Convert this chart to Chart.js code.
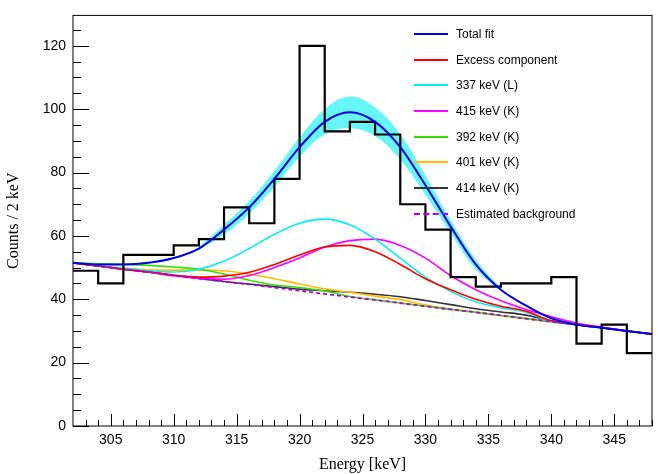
<!DOCTYPE html>
<html>
<head>
<meta charset="utf-8">
<script src="https://cdn.jsdelivr.net/npm/chart.js@4"></script>
<style>
  body { margin: 0; background: #fff; }
  #wrap { position: relative; width: 659px; height: 474px; }
  #legend { position: absolute; left: 414px; top: 21px; font: 12px "Liberation Sans", Arial, sans-serif; }
  .row { height: 25.7px; display: flex; align-items: center; }
  .sw { width: 34px; height: 0; border-top: 2px solid; margin-right: 8px; }
</style>
</head>
<body>
<div id="wrap">
  <canvas id="c" width="659" height="474"></canvas>
  <div id="legend"></div>
</div>
<script>
// histogram: left bin edges + counts (2 keV bins)
const binEdges = [302,304,306,308,310,312,314,316,318,320,322,324,326,328,330,332,334,336,338,340,342,344,346];
const counts   = [49, 45, 54, 54, 57, 59, 69, 64, 78, 120, 93, 96, 92, 70, 62, 47, 44, 45, 45, 47, 26, 32, 23];

// curve sample points (keV)
const energy = [302,304,306,308,310,312,314,316,318,320,322,324,326,328,330,332,334,336,338,340,342,344,346,348];
const background = [51.5,50.5,49.5,48.6,47.6,46.6,45.6,44.7,43.7,42.7,41.7,40.7,39.8,38.8,37.8,36.8,35.9,34.9,33.9,32.9,32.0,31.0,30.0,29.0];
const totalFit   = [51.5,51,51,51.5,53,56,62,69,78,88,96,99,96,88,76,63,51,43,38,34,32,31,30,29];
const line337    = [51.5,50.6,49.8,49,48.6,49.5,52,56,60.5,64,65.3,63.5,59,53,47,42.5,39.2,37.3,35.9,32.9,32.0,31.0,30.0,29.0];
const excess     = [51.5,50.5,49.5,48.6,47.6,47,47.3,48.5,51,54,56.5,57,55,51,46.5,43,40,37.8,36.2,33.2,32.0,31.0,30.0,29.0];
const line415    = [51.5,50.5,49.5,48.6,47.4,46.6,46.3,47.5,50,53,56.5,58.5,59,57,53,47.5,43,39.5,36.8,34.5,32.5,31.2,30.0,29.0];
const line392    = [51.5,51.2,51,50.7,50.2,49.5,48,46,44.5,43.7,42.6,40.9,39.8,38.8,37.8,36.8,35.9,34.9,33.9,32.9,32.0,31.0,30.0,29.0];
const line401    = [51.5,50.5,49.8,49.3,49.2,49.2,49,48,46.5,44.8,43.3,42.2,41,39.9,38.2,36.9,35.9,34.9,33.9,32.9,32.0,31.0,30.0,29.0];
const line414    = [51.5,50.5,49.5,48.6,47.6,46.6,45.6,44.8,44,43.2,42.7,42.2,41.6,40.8,39.6,38.3,37,36,35,33.2,32.0,31.0,30.0,29.0];
const bandE     = [312,314,316,318,320,322,324,326,328,330,332,334,336];
const bandUpper = [56.5,63.5,71,80.5,91,100,104,100.5,92,79,65,52.5,43.5];
const bandLower = [55.5,60.5,67,75.5,85,92,94,91.5,84,73,61,49.5,42.5];

const xTicks = [305,310,315,320,325,330,335,340,345];
const yTicks = [0,20,40,60,80,100,120];

const pts = (xs, ys) => xs.map((x, i) => ({ x, y: ys[i] }));
const histPts = pts(binEdges, counts).concat([{ x: 348, y: counts[counts.length - 1] }]);

function curve(label, data, color, order, extra) {
  return Object.assign({ label, data: pts(energy, data), borderColor: color, borderWidth: 1.6, order,
    pointRadius: 0, tension: 0.4, cubicInterpolationMode: 'monotone', fill: false }, extra || {});
}

const datasets = [
  { label: 'bandUp', data: pts(bandE, bandUpper), borderWidth: 0, pointRadius: 0, tension: 0.4,
    backgroundColor: '#66f6f8', fill: '+1', order: 20 },
  { label: 'bandLo', data: pts(bandE, bandLower), borderWidth: 0, pointRadius: 0, tension: 0.4, fill: false, order: 19 },
  curve('Estimated background', background, '#b000e8', 2, { borderDash: [4, 3], borderWidth: 1.8, tension: 0 }),
  curve('414 keV (K)', line414, '#333333', 9),
  curve('401 keV (K)', line401, '#ffbf00', 8),
  curve('392 keV (K)', line392, '#33e000', 7),
  curve('415 keV (K)', line415, '#ff00ff', 6),
  curve('337 keV (L)', line337, '#00f0f0', 5),
  curve('Excess component', excess, '#ff0000', 4),
  { label: 'hist', data: histPts, stepped: 'before', borderColor: '#000', borderWidth: 2.2, pointRadius: 0, fill: false, order: 1 },
  curve('Total fit', totalFit, '#0000e0', 0, { borderWidth: 2 })
];

const legendItems = [
  ['Total fit', '#0000e0', 'solid'], ['Excess component', '#ff0000', 'solid'],
  ['337 keV (L)', '#00f0f0', 'solid'], ['415 keV (K)', '#ff00ff', 'solid'],
  ['392 keV (K)', '#33e000', 'solid'], ['401 keV (K)', '#ffbf00', 'solid'],
  ['414 keV (K)', '#333333', 'solid'], ['Estimated background', '#b000e8', 'dashed']
];
document.getElementById('legend').innerHTML = legendItems.map(([t, c, s]) =>
  `<div class="row"><div class="sw" style="border-top-color:${c};border-top-style:${s}"></div>${t}</div>`).join('');

// ROOT-like frame with inward ticks
const frameTicks = {
  id: 'frameTicks',
  afterDraw(chart) {
    const { ctx, chartArea: a, scales: { x, y } } = chart;
    ctx.save();
    ctx.strokeStyle = '#000';
    ctx.lineWidth = 1;
    ctx.strokeRect(a.left, a.top, a.right - a.left, a.bottom - a.top);
    ctx.beginPath();
    for (let v = 303; v <= 348; v++) {
      const px = Math.round(x.getPixelForValue(v)) + 0.5;
      const len = v % 5 === 0 ? 12 : 6;
      ctx.moveTo(px, a.bottom); ctx.lineTo(px, a.bottom - len);
    }
    for (let v = 0; v <= 125; v += 5) {
      const py = Math.round(y.getPixelForValue(v)) + 0.5;
      const len = v % 20 === 0 ? 16 : 8;
      ctx.moveTo(a.left, py); ctx.lineTo(a.left + len, py);
    }
    ctx.stroke();
    ctx.restore();
  }
};

new Chart(document.getElementById('c'), {
  type: 'line',
  data: { datasets },
  options: {
    responsive: false,
    animation: false,
    layout: { padding: { top: 5, right: 7, left: 0, bottom: 0 } },
    plugins: { legend: { display: false }, tooltip: { enabled: false } },
    scales: {
      x: {
        type: 'linear', min: 302, max: 348,
        afterBuildTicks: s => { s.ticks = xTicks.map(v => ({ value: v })); },
        afterFit: s => { s.height = 48; },
        grid: { display: false, drawTicks: false },
        border: { display: false },
        ticks: { padding: 6, color: '#000', font: { family: 'Liberation Sans', size: 14 } },
        title: { display: true, text: 'Energy [keV]', color: '#000', padding: 0,
          font: { family: 'Liberation Serif', size: 16 } }
      },
      y: {
        min: 0, max: 129.6,
        afterBuildTicks: s => { s.ticks = yTicks.map(v => ({ value: v })); },
        afterFit: s => { s.width = 73; },
        grid: { display: false, drawTicks: false },
        border: { display: false },
        ticks: { padding: 7, color: '#000', font: { family: 'Liberation Sans', size: 14 } },
        title: { display: true, text: 'Counts / 2 keV', color: '#000', padding: { top: 4 },
          font: { family: 'Liberation Serif', size: 16 } }
      }
    }
  },
  plugins: [frameTicks]
});
</script>
</body>
</html>
